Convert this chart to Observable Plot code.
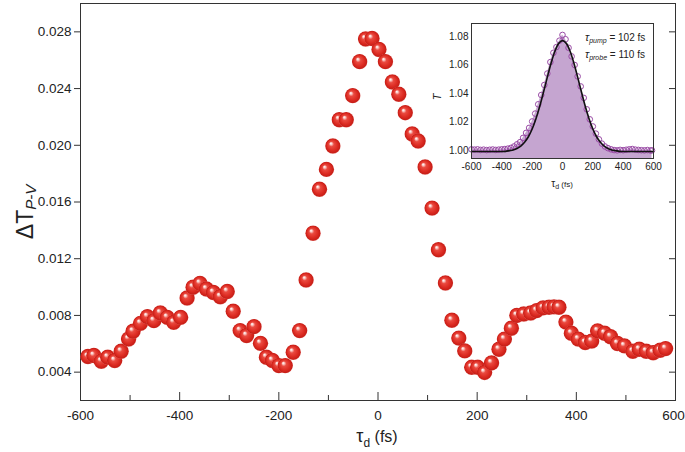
<!DOCTYPE html>
<html><head><meta charset="utf-8">
<script src="https://cdn.jsdelivr.net/npm/d3@7"></script>
<script src="https://cdn.jsdelivr.net/npm/@observablehq/plot@0.6"></script>
<style>
html,body{margin:0;padding:0;background:#fff;}
#wrap{position:relative;width:685px;height:452px;overflow:hidden;background:#fff;}
#wrap svg{position:absolute;overflow:visible;}
</style></head><body><div id="wrap"></div>
<script>
// Main series: pump-probe delay (fs) and ΔT_P-V
const delay = [-585,-573,-558,-545,-531,-518,-503,-494,-479,-465,-452,-439,-425,-412,-398,-385,-373,-359,-346,-332,-318,-304,-292,-278,-265,-250,-237,-225,-213,-200,-187,-171,-158,-145,-131,-118,-104,-91,-78,-64,-51,-37,-25,-12,2,15,29,42,55,69,81,95,109,122,136,149,163,175,189,201,215,229,244,255,269,280,294,308,320,333,345,355,365,379,390,404,418,431,443,457,469,483,497,514,527,541,555,569,580];
const deltaT = [0.0051,0.00517,0.00477,0.00505,0.00482,0.00547,0.00634,0.00688,0.00744,0.00791,0.00763,0.00817,0.00786,0.00751,0.00786,0.00923,0.00999,0.01026,0.00986,0.00962,0.00932,0.00969,0.00829,0.00693,0.00658,0.00721,0.00603,0.00505,0.00482,0.00446,0.00446,0.0054,0.00693,0.0105,0.0138,0.0169,0.0183,0.01995,0.0218,0.0218,0.0235,0.0259,0.0275,0.02753,0.02676,0.0259,0.02446,0.0236,0.0223,0.0208,0.0203,0.01847,0.01557,0.01263,0.01029,0.00766,0.0064,0.0055,0.00434,0.00434,0.00398,0.00465,0.00561,0.00633,0.0071,0.008,0.0081,0.00817,0.00834,0.00853,0.00858,0.0086,0.00858,0.00753,0.00674,0.00633,0.00609,0.00619,0.00691,0.00674,0.0065,0.00602,0.00585,0.00547,0.00561,0.00547,0.00537,0.00554,0.00566];
const xTickValues = [-600,-400,-200,0,200,400,600];
const xMinorTicks = [-500,-300,-100,100,300,500];
const yTickValues = [0.004,0.008,0.012,0.016,0.020,0.024,0.028];

// Inset: transmission T vs delay, measured points and fit
const insetDelay = [-600,-580,-560,-540,-520,-500,-480,-460,-440,-420,-400,-380,-360,-340,-320,-300,-280,-260,-240,-220,-200,-180,-160,-140,-120,-100,-80,-60,-40,-20,0,20,40,60,80,100,120,140,160,180,200,220,240,260,280,300,320,340,360,380,400,420,440,460,480,500,520,540,560,580,590];
const insetT = [1.001,1.0008,1.001,1.0006,1.0008,1.0005,1.0007,1.0009,1.0006,1.0008,1.001,1.0012,1.0015,1.002,1.003,1.0045,1.006,1.009,1.0125,1.016,1.0205,1.026,1.0325,1.039,1.046,1.054,1.062,1.0685,1.0725,1.077,1.081,1.078,1.072,1.066,1.06,1.052,1.045,1.037,1.029,1.022,1.017,1.012,1.008,1.005,1.003,1.0018,1.001,1.0005,1.0003,1.0006,1.0004,1.0007,1.001,1.0012,1.0008,1.0006,1.0004,1.0003,1.0005,1.0002,1.0003];
const fitDelay = [-600,-550,-500,-450,-400,-375,-350,-325,-300,-275,-250,-225,-200,-175,-150,-125,-100,-75,-50,-25,0,25,50,75,100,125,150,175,200,225,250,275,300,325,350,375,400,450,500,550,600];
const fitT = [0.9995,0.9995,0.9995,0.9995,0.9995,0.9996,1.0001,1.0006,1.0016,1.0033,1.0059,1.0098,1.0152,1.0224,1.0311,1.0411,1.0515,1.0614,1.0696,1.0751,1.0770,1.0751,1.0696,1.0614,1.0515,1.0411,1.0311,1.0224,1.0152,1.0098,1.0059,1.0033,1.0016,1.0006,1.0001,0.9996,0.9995,0.9995,0.9995,0.9995,0.9995];
const insetYTicks = [1.00,1.02,1.04,1.06,1.08];
const insetYDomain = [0.9946, 1.089];

const mainData = delay.map((t, i) => ({t, v: deltaT[i]}));
const insetData = insetDelay.map((t, i) => ({t, v: insetT[i]}));
const fitData = fitDelay.map((t, i) => ({t, v: fitT[i]}));

const FONT = "'Liberation Sans', Arial, sans-serif";
const hyphenFmt = d => String(d);
const wrap = document.getElementById("wrap");

const main = Plot.plot({
  width: 685, height: 452,
  marginLeft: 80, marginRight: 10, marginTop: 3, marginBottom: 52,
  style: {fontFamily: FONT, fontSize: "13.5px", color: "#222", background: "transparent"},
  x: {domain: [-600, 600]},
  y: {domain: [0.002, 0.030]},
  marks: [
    Plot.ruleX(xTickValues, {x: d => d, insetTop: 389, stroke: "#333"}),
    Plot.ruleX(xMinorTicks, {x: d => d, insetTop: 392, stroke: "#333"}),
    Plot.ruleY(yTickValues, {y: d => d, insetLeft: 589, stroke: "#333"}),
    Plot.axisY({ticks: yTickValues, tickSize: 6, tickPadding: 3, tickFormat: d3.format(".3f"), label: null, stroke: "#333"}),
    Plot.axisX({ticks: xTickValues, tickSize: 0, tickPadding: 10, tickFormat: hyphenFmt, label: null}),
    Plot.frame({stroke: "#333"}),
    Plot.dot(mainData, {x: "t", y: "v", r: 7.7, fill: "#d92b23"})
  ]
});
main.style.left = "0px"; main.style.top = "0px";
wrap.appendChild(main);

// Glossy ball gradient
const ms = d3.select(main);
const defs = ms.insert("defs", ":first-child");
const g = defs.append("radialGradient").attr("id", "ball")
  .attr("cx", "0.5").attr("cy", "0.5").attr("r", "0.5").attr("fx", "0.36").attr("fy", "0.32");
[[0, "#ffffff"], [0.12, "#fbd3cf"], [0.33, "#ea4a40"], [0.7, "#dc2b22"], [0.92, "#c81f18"], [1, "#d8524c"]]
  .forEach(([o, c]) => g.append("stop").attr("offset", o).attr("stop-color", c));
ms.selectAll('g[aria-label="dot"] circle').attr("fill", "url(#ball)");
// keep the rightmost x tick label inside the picture
const xLabels = ms.selectAll('g[aria-label="x-axis tick label"] text').nodes();
if (xLabels.length) d3.select(xLabels[xLabels.length - 1]).attr("dx", -2);

// Axis titles (main)
const yl = ms.append("text").attr("transform", "translate(33,212) rotate(-90)")
  .attr("text-anchor", "middle").attr("font-family", FONT).attr("fill", "#222");
yl.append("tspan").attr("font-size", 23).text("ΔT");
yl.append("tspan").attr("font-size", 15).attr("font-style", "italic").attr("dy", 3).text("P-V");

const xl = ms.append("text").attr("x", 377).attr("y", 442)
  .attr("text-anchor", "middle").attr("font-family", FONT).attr("fill", "#222");
xl.append("tspan").attr("font-size", 18).text("τ");
xl.append("tspan").attr("font-size", 12).attr("dy", 5).text("d");
xl.append("tspan").attr("font-size", 16).attr("dy", -5).text(" (fs)");

// Inset
const inset = Plot.plot({
  width: 255, height: 191,
  marginLeft: 50, marginRight: 23, marginTop: 20, marginBottom: 36,
  style: {fontFamily: FONT, fontSize: "10px", color: "#222", background: "transparent"},
  x: {domain: [-600, 600]},
  y: {domain: insetYDomain},
  marks: [
    Plot.areaY(insetData, {x: "t", y1: insetYDomain[0], y2: "v", fill: "#c5a5d0"}),
    Plot.dot(insetData, {x: "t", y: "v", r: 2.8, stroke: "#9a4ca6", strokeWidth: 1}),
    Plot.line(fitData, {x: "t", y: "v", stroke: "#111", strokeWidth: 1.6, curve: "catmull-rom"}),
    Plot.axisY({ticks: insetYTicks, tickSize: 0, tickPadding: 3, tickFormat: d3.format(".2f"), label: null}),
    Plot.axisX({ticks: xTickValues, tickSize: 0, tickPadding: 4, tickFormat: hyphenFmt, label: null}),
    Plot.frame({stroke: "#333"})
  ]
});
inset.style.left = "421px"; inset.style.top = "3px";
wrap.appendChild(inset);
const is = d3.select(inset);
function tauLabel(y, sub, val) {
  const t = is.append("text").attr("x", 164).attr("y", y).attr("text-anchor", "start")
    .attr("font-family", FONT).attr("fill", "#222");
  t.append("tspan").attr("font-size", 11).attr("font-style", "italic").attr("fill", "#222").text("τ");
  t.append("tspan").attr("font-size", 7).attr("font-style", "italic").attr("fill", "#222").attr("dy", 2).text(sub);
  t.append("tspan").attr("font-size", 10).attr("fill", "#222").attr("dy", -2).text(" = " + val + " fs");
}
tauLabel(38, "pump", 102);
tauLabel(55, "probe", 110);
is.append("text").attr("transform", "translate(20,94) rotate(-90)").attr("text-anchor", "middle")
  .attr("font-family", FONT).attr("font-size", 11).attr("font-style", "italic").attr("fill", "#222").text("T");
const il = is.append("text").attr("x", 141).attr("y", 184).attr("text-anchor", "middle")
  .attr("font-family", FONT).attr("fill", "#222");
il.append("tspan").attr("font-size", 10).text("τ");
il.append("tspan").attr("font-size", 7).attr("dy", 2).text("d");
il.append("tspan").attr("font-size", 8).attr("dy", -2).text(" (fs)");
</script>
</body></html>
